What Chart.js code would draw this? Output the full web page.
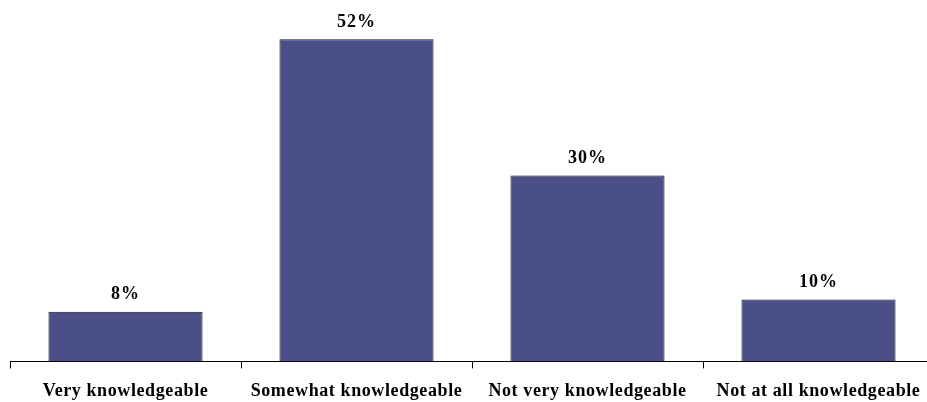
<!DOCTYPE html>
<html>
<head>
<meta charset="utf-8">
<script src="https://cdn.jsdelivr.net/npm/chart.js@4/dist/chart.umd.min.js"></script>
<style>
  html, body { margin: 0; padding: 0; background: #fff; overflow: hidden; }
  #wrap { width: 940px; height: 416px; }
</style>
</head>
<body>
<div id="wrap"><canvas id="knowledge_chart"></canvas></div>
<script>
const categories = ['Very knowledgeable', 'Somewhat knowledgeable', 'Not very knowledgeable', 'Not at all knowledgeable'];
const values = [8, 52, 30, 10];
const valueLabels = ['8%', '52%', '30%', '10%'];

const serif = '"Liberation Serif", "Times New Roman", serif';

// the original text is a bit wider spaced than canvas draws it
const spacing = {
      id: 'spacing',
      beforeDraw(chart)
      {
            chart.ctx.letterSpacing = '0.6px';
      }
};

// draws the percentage above each bar
const barLabels = {
      id: 'barLabels',
      afterDatasetsDraw(chart)
      {
            const ctx = chart.ctx;
            const meta = chart.getDatasetMeta(0);
            ctx.save();
            ctx.font = 'bold 18px ' + serif;
            ctx.letterSpacing = '1px';
            ctx.fillStyle = '#000';
            ctx.textAlign = 'center';
            ctx.textBaseline = 'middle';
            meta.data.forEach(function (bar, i)
            {
                  ctx.fillText(valueLabels[i], bar.x, bar.y - 17);
            });
            ctx.restore();
      }
};

new Chart(document.getElementById('knowledge_chart'), {
      type: 'bar',
      data: {
            labels: categories,
            datasets: [{
                  data: values,
                  backgroundColor: '#4b4f88',
                  borderColor: '#111',
                  borderWidth: 1,
                  barPercentage: 0.667,
                  categoryPercentage: 1
            }]
      },
      options: {
            responsive: true,
            maintainAspectRatio: false,
            animation: false,
            layout: { padding: { left: 10, right: 6, top: 2, bottom: 2 } },
            scales: {
                  y: { display: false, min: 0, max: 58 },
                  x: {
                        offset: true,
                        border: { display: true, color: '#000', width: 1 },
                        grid: {
                              offset: true,
                              drawOnChartArea: false,
                              drawTicks: true,
                              tickLength: 7,
                              color: '#000'
                        },
                        ticks: {
                              color: '#000',
                              padding: 12,
                              font: { family: serif, size: 18, weight: 'bold' }
                        }
                  }
            },
            plugins: {
                  legend: { display: false },
                  tooltip: { enabled: false }
            }
      },
      plugins: [spacing, barLabels]
});
</script>
</body>
</html>
